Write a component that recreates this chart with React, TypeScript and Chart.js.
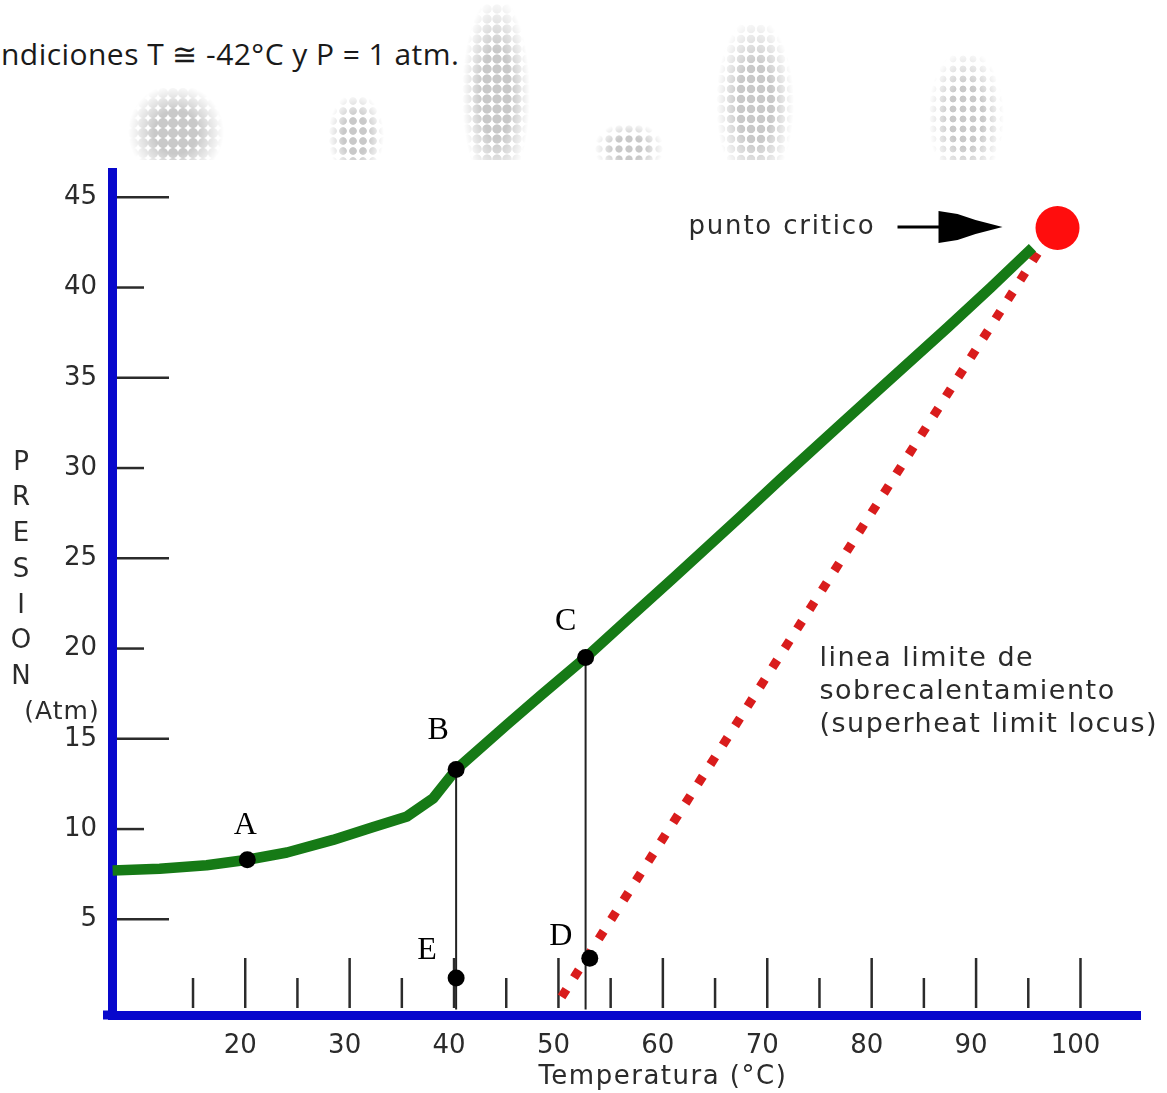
import React, { useEffect, useRef } from 'react';
import { Chart, registerables } from 'chart.js';

Chart.register(...registerables);

// ---- data ----
const CURVE_T = [7.3, 11.8, 16.3, 20.2, 24.0, 28.4, 32.2, 35.5, 38.0, 40.2, 45.1, 48.3, 52.6, 56.6, 61.0, 67.4, 71.3, 77.0, 80.8, 87.3, 91.4, 95.4];
const CURVE_P = [7.7, 7.8, 8.0, 8.3, 8.7, 9.4, 10.1, 10.7, 11.7, 13.3, 15.8, 17.4, 19.5, 21.6, 23.9, 27.3, 29.4, 32.4, 34.4, 37.8, 40.0, 42.2];

const LIMIT_T = [50.3, 96.0];
const LIMIT_P = [0.7, 42.0];

const POINT_LABELS = ['A', 'B', 'C', 'D', 'E'];
const POINT_T = [20.2, 40.2, 52.6, 53.0, 40.2];
const POINT_P = [8.3, 13.3, 19.5, 2.85, 1.75];

const DROP_T = [40.2, 52.6];
const DROP_TOP = [13.3, 19.5];

const CRITICAL_T = [97.8];
const CRITICAL_P = [43.3];

const Y_TICKS = [5, 10, 15, 20, 25, 30, 35, 40, 45];
const X_TICKS = [15, 20, 25, 30, 35, 40, 45, 50, 55, 60, 65, 70, 75, 80, 85, 90, 95, 100];
const X_LABELS = [20, 30, 40, 50, 60, 70, 80, 90, 100];

const X_TITLE = 'Temperatura (°C)';
const Y_TITLE = 'PRESION';
const Y_UNIT = '(Atm)';
const CRIT_TEXT = 'punto critico';
const LIMIT_TEXT = ['linea limite de', 'sobrecalentamiento', '(superheat limit locus)'];
const TOP_TEXT = 'ndiciones T ≅ -42°C y P = 1 atm.';

// ---- styles ----
const BLUE = '#0808cc';
const GREEN = '#167a16';
const RED_DOTS = '#d91c1c';
const RED = '#ff0d0d';
const INK = '#2b2b2b';
const SANS = '"DejaVu Sans", sans-serif';
const SERIF = '"Liberation Serif", serif';
const LABEL_OFFSETS = [[-2, -34], [-18, -39], [-20, -36], [-29, -22], [-29, -27]];

const zip = (xs: number[], ys: number[]) => xs.map((v, i) => ({ x: v, y: ys[i] }));

const setSpacing = (ctx: any, px: number) => {
  if ('letterSpacing' in ctx) ctx.letterSpacing = `${px}px`;
};

const decorPlugin = {
  id: 'decor',
  beforeDatasetsDraw(chart: any) {
    const { ctx, chartArea } = chart;
    const x = chart.scales.x;
    const y = chart.scales.y;
    ctx.save();
    ctx.strokeStyle = INK;
    ctx.lineWidth = 2.5;
    Y_TICKS.forEach((v) => {
      const py = y.getPixelForValue(v);
      const long = (v / 5) % 2 === 1;
      ctx.beginPath();
      ctx.moveTo(chartArea.left + 5, py);
      ctx.lineTo(chartArea.left + (long ? 57 : 32), py);
      ctx.stroke();
    });
    X_TICKS.forEach((v) => {
      const px = x.getPixelForValue(v);
      const long = v % 10 === 0;
      ctx.beginPath();
      ctx.moveTo(px, chartArea.bottom - 7);
      ctx.lineTo(px, chartArea.bottom - (long ? 57 : 37));
      ctx.stroke();
    });
    ctx.restore();
  },
  afterDraw(chart: any) {
    const { ctx, chartArea } = chart;
    const x = chart.scales.x;
    const y = chart.scales.y;
    ctx.save();
    // axis corner
    ctx.fillStyle = BLUE;
    ctx.fillRect(chartArea.left - 9, chartArea.bottom - 4.5, 9, 9);

    // point letters
    ctx.fillStyle = '#000';
    ctx.font = `32px ${SERIF}`;
    ctx.textAlign = 'center';
    ctx.textBaseline = 'middle';
    POINT_LABELS.forEach((t, i) => {
      const px = x.getPixelForValue(POINT_T[i]);
      const py = y.getPixelForValue(POINT_P[i]);
      ctx.fillText(t, px + LABEL_OFFSETS[i][0], py + LABEL_OFFSETS[i][1]);
    });

    // x title
    ctx.fillStyle = INK;
    ctx.font = `26px ${SANS}`;
    setSpacing(ctx, 1.5);
    ctx.fillText(X_TITLE, x.getPixelForValue(60), chartArea.bottom + 62);
    setSpacing(ctx, 0);

    // y title, stacked letters
    ctx.font = `26px ${SANS}`;
    Y_TITLE.split('').forEach((c, i) => {
      ctx.fillText(c, 21, 463 + i * 35.7);
    });
    ctx.font = `25px ${SANS}`;
    setSpacing(ctx, 1);
    ctx.fillText(Y_UNIT, 62, 712);

    // critical point annotation
    const cx = x.getPixelForValue(CRITICAL_T[0]);
    const cy = y.getPixelForValue(CRITICAL_P[0]);
    ctx.textAlign = 'left';
    ctx.font = `26px ${SANS}`;
    setSpacing(ctx, 1.8);
    ctx.fillText(CRIT_TEXT, cx - 369, cy - 1);
    setSpacing(ctx, 0);
    ctx.strokeStyle = '#000';
    ctx.lineWidth = 3;
    ctx.beginPath();
    ctx.moveTo(cx - 160, cy - 1);
    ctx.lineTo(cx - 115, cy - 1);
    ctx.stroke();
    ctx.fillStyle = '#000';
    ctx.beginPath();
    ctx.moveTo(cx - 119, cy - 17);
    ctx.lineTo(cx - 100, cy - 14);
    ctx.lineTo(cx - 82, cy - 8);
    ctx.lineTo(cx - 55, cy - 1);
    ctx.lineTo(cx - 82, cy + 6);
    ctx.lineTo(cx - 100, cy + 12);
    ctx.lineTo(cx - 119, cy + 15);
    ctx.closePath();
    ctx.fill();

    // superheat limit text
    ctx.fillStyle = INK;
    ctx.textAlign = 'left';
    ctx.font = `27px ${SANS}`;
    setSpacing(ctx, 1.5);
    const lx = x.getPixelForValue(75);
    const ly = y.getPixelForValue(19.4);
    LIMIT_TEXT.forEach((t, i) => ctx.fillText(t, lx, ly + i * 33));
    setSpacing(ctx, 0);
    ctx.restore();
  },
};

const DOT_BLOBS = [
  { left: 128, top: 88, w: 96, h: 80, dot: 4.6, gap: 10 },
  { left: 328, top: 96, w: 56, h: 72, dot: 3.4, gap: 10 },
  { left: 462, top: 4, w: 68, h: 164, dot: 4.2, gap: 10 },
  { left: 594, top: 124, w: 70, h: 44, dot: 3.2, gap: 10 },
  { left: 716, top: 24, w: 78, h: 144, dot: 3.8, gap: 10 },
  { left: 928, top: 54, w: 76, h: 114, dot: 3.0, gap: 10 },
];

export default function App() {
  const ref = useRef<HTMLCanvasElement | null>(null);

  useEffect(() => {
    if (!ref.current) return;
    const chart = new Chart(ref.current, {
      type: 'line',
      data: {
        datasets: [
          {
            data: zip(CRITICAL_T, CRITICAL_P),
            showLine: false,
            pointRadius: 22,
            pointBackgroundColor: RED,
            pointBorderWidth: 0,
          },
          {
            data: zip(POINT_T, POINT_P),
            showLine: false,
            pointRadius: 8.5,
            pointBackgroundColor: '#000',
            pointBorderWidth: 0,
          },
          {
            data: [{ x: DROP_T[0], y: DROP_TOP[0] }, { x: DROP_T[0], y: 0 }],
            borderColor: '#222',
            borderWidth: 2,
            pointRadius: 0,
          },
          {
            data: [{ x: DROP_T[1], y: DROP_TOP[1] }, { x: DROP_T[1], y: 0 }],
            borderColor: '#222',
            borderWidth: 2,
            pointRadius: 0,
          },
          {
            data: zip(CURVE_T, CURVE_P),
            borderColor: GREEN,
            borderWidth: 10.5,
            pointRadius: 0,
            tension: 0,
            borderJoinStyle: 'round',
          },
          {
            data: zip(LIMIT_T, LIMIT_P),
            borderColor: RED_DOTS,
            borderWidth: 9,
            borderDash: [9, 14],
            pointRadius: 0,
          },
        ],
      },
      options: {
        animation: false,
        responsive: false,
        events: [],
        layout: { padding: { left: 0, top: 172, right: 27, bottom: 0 } },
        plugins: { legend: { display: false }, tooltip: { enabled: false }, title: { display: false } },
        scales: {
          x: {
            type: 'linear',
            min: 7.24,
            max: 105.7,
            afterBuildTicks: (s: any) => {
              s.ticks = X_TICKS.map((v) => ({ value: v }));
            },
            afterFit: (s: any) => {
              s.height = 78;
            },
            grid: { display: false, drawTicks: false },
            border: { display: true, color: BLUE, width: 9 },
            ticks: {
              autoSkip: false,
              maxRotation: 0,
              padding: 16,
              labelOffset: -5,
              color: INK,
              font: { family: SANS, size: 26 },
              callback: (v: any) => (X_LABELS.includes(Number(v)) ? String(v) : ''),
            },
          },
          y: {
            type: 'linear',
            min: -0.3,
            max: 46.4,
            afterBuildTicks: (s: any) => {
              s.ticks = Y_TICKS.map((v) => ({ value: v }));
            },
            afterFit: (s: any) => {
              s.width = 112;
            },
            grid: { display: false, drawTicks: false },
            border: { display: true, color: BLUE, width: 9 },
            ticks: {
              padding: 15,
              color: INK,
              font: { family: SANS, size: 26 },
              callback: (v: any) => String(v),
            },
          },
        },
      },
      plugins: [decorPlugin],
    } as any);
    return () => chart.destroy();
  }, []);

  return (
    <div style={{ position: 'fixed', left: 0, top: 0, width: 1167, height: 1093, background: '#fff', overflow: 'hidden' }}>
      {DOT_BLOBS.map((b, i) => (
        <div
          key={i}
          style={{
            position: 'absolute',
            left: b.left,
            top: b.top,
            width: b.w,
            height: b.h,
            backgroundImage: `radial-gradient(circle, #c9c9c9 ${b.dot}px, transparent ${b.dot + 0.8}px)`,
            backgroundSize: `${b.gap}px ${b.gap}px`,
            WebkitMaskImage: 'radial-gradient(ellipse 50% 60% at 50% 55%, #000 45%, transparent 100%)',
            maskImage: 'radial-gradient(ellipse 50% 60% at 50% 55%, #000 45%, transparent 100%)',
          }}
        />
      ))}
      <div style={{ position: 'absolute', left: 0, top: 160, width: 1167, height: 12, background: '#fff' }} />
      <div
        style={{
          position: 'absolute',
          left: 1,
          top: 34,
          fontFamily: '"Open Sans", sans-serif',
          fontSize: 30,
          color: '#1a1a1a',
          whiteSpace: 'nowrap',
          lineHeight: '40px',
          letterSpacing: '0.45px',
        }}
      >
        {TOP_TEXT}
      </div>
      <canvas ref={ref} width={1167} height={1093} style={{ position: 'absolute', left: 0, top: 0, display: 'block' }} />
    </div>
  );
}
